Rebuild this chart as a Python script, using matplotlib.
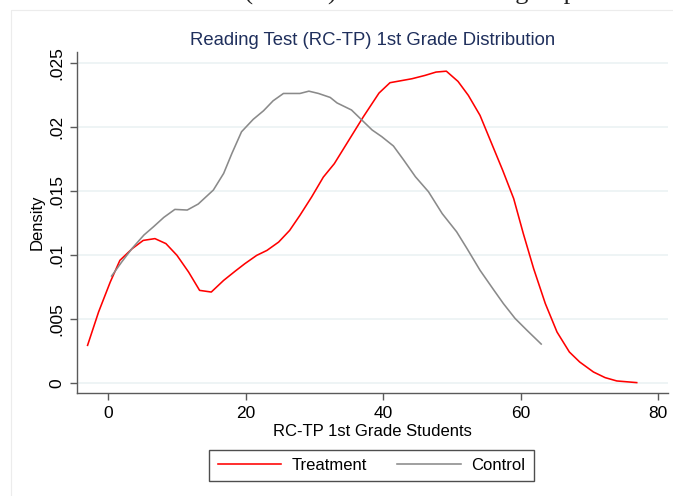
import matplotlib
matplotlib.use("Agg")
import matplotlib.pyplot as plt
from matplotlib.lines import Line2D

# Kernel density curves
treat_x = [-3.0, -1.4, 0.3, 1.7, 3.5, 5.1, 6.8, 8.4, 10.0, 11.7, 13.3, 15.0,
           16.8, 18.5, 19.9, 21.6, 23.1, 24.8, 26.4, 27.9, 29.6, 31.3, 32.9,
           34.7, 37.1, 39.4, 41.0, 44.2, 46.1, 47.7, 49.2, 50.9, 52.4, 54.1,
           55.8, 57.4, 59.0, 60.4, 61.9, 63.6, 65.3, 67.1, 68.6, 70.6, 72.3,
           74.0, 76.9]
treat_y = [0.00294, 0.00554, 0.00788, 0.00957, 0.01049, 0.01113, 0.01127,
           0.01088, 0.00997, 0.00866, 0.00723, 0.00710, 0.00801, 0.00874,
           0.00932, 0.00996, 0.01035, 0.01100, 0.01191, 0.01309, 0.01452,
           0.01607, 0.01712, 0.01868, 0.02076, 0.02263, 0.02344, 0.02375,
           0.02401, 0.02427, 0.02434, 0.02354, 0.02245, 0.02089, 0.01868,
           0.01660, 0.01439, 0.01166, 0.00893, 0.00620, 0.00398, 0.00242,
           0.00164, 0.00086, 0.00042, 0.00016, 0.00003]

ctrl_x = [0.5, 2.0, 3.5, 5.2, 6.6, 8.1, 9.7, 11.5, 13.1, 15.3, 16.8, 18.0,
          19.4, 21.1, 22.6, 24.0, 25.5, 27.9, 29.2, 30.6, 32.3, 33.3, 35.4,
          36.9, 38.4, 39.8, 41.5, 43.0, 44.7, 46.6, 48.6, 50.7, 52.2, 54.1,
          56.1, 57.5, 59.2, 60.9, 63.0]
ctrl_y = [0.00835, 0.00947, 0.01052, 0.01155, 0.01220, 0.01293, 0.01355,
          0.01350, 0.01397, 0.01506, 0.01636, 0.01792, 0.01961, 0.02058,
          0.02125, 0.02203, 0.02260, 0.02260, 0.02278, 0.02260, 0.02229,
          0.02186, 0.02131, 0.02053, 0.01975, 0.01923, 0.01850, 0.01740,
          0.01610, 0.01493, 0.01322, 0.01180, 0.01050, 0.00880, 0.00726,
          0.00620, 0.00504, 0.00413, 0.00304]

x_ticks = [0, 20, 40, 60, 80]
y_ticks = [0, 0.005, 0.01, 0.015, 0.02, 0.025]
y_tick_labels = ["0", ".005", ".01", ".015", ".02", ".025"]

plt.rcParams["font.family"] = ["Liberation Sans", "DejaVu Sans"]

W, H = 673, 496
fig = plt.figure(figsize=(W / 100, H / 100), dpi=100)

# faint border of the graph region and cut-off caption of the page above it
fig.add_artist(Line2D([11 / W, 11 / W, 1], [0, 1 - 9.5 / H, 1 - 9.5 / H],
                      color="#ececec", lw=0.8))
fig.text(194 / W, 1.0, "Test (RC-TP) Distribution for group",
         family=["Liberation Serif", "DejaVu Serif"], fontsize=19,
         ha="left", va="baseline", color="#222222")

ax = fig.add_axes([76.5 / W, 1 - 393.3 / H, (668 - 76.5) / W, (393.3 - 51.7) / H])

ax.plot(treat_x, treat_y, color="#ff0000", lw=1.15, label="Treatment")
ax.plot(ctrl_x, ctrl_y, color="#8a8a8a", lw=1.15, label="Control")

ax.set_xlim(-4.61, 81.45)
ax.set_ylim(-0.000804, 0.02586)
ax.set_xticks(x_ticks)
ax.set_yticks(y_ticks)
ax.set_yticklabels(y_tick_labels, rotation=90, va="center")
ax.tick_params(axis="both", labelsize=12.5, length=5, width=1, color="#5a5a5a")
ax.tick_params(axis="x", pad=4)
ax.tick_params(axis="y", pad=4)

ax.grid(axis="y", color="#eaf1f3", lw=1.1)
ax.set_axisbelow(True)
for side in ["top", "right"]:
    ax.spines[side].set_visible(False)
for side in ["left", "bottom"]:
    ax.spines[side].set_color("#5a5a5a")
    ax.spines[side].set_linewidth(1.0)

ax.set_title("Reading Test (RC-TP) 1st Grade Distribution", fontsize=13.3,
             color="#1f2f5c", pad=5)
ax.set_xlabel("RC-TP 1st Grade Students", fontsize=12, labelpad=2)
ax.set_ylabel("Density", fontsize=12, labelpad=3)

leg = ax.legend(loc="center", bbox_to_anchor=(371.6 / W, 1 - 465.5 / H),
                bbox_transform=fig.transFigure, ncol=2, fontsize=12,
                frameon=True, fancybox=False, handlelength=3.8,
                handletextpad=0.66, columnspacing=1.8, borderpad=0.5)
leg.get_frame().set_edgecolor("#222222")
leg.get_frame().set_linewidth(1.0)

fig.savefig("out.png", dpi=100)
